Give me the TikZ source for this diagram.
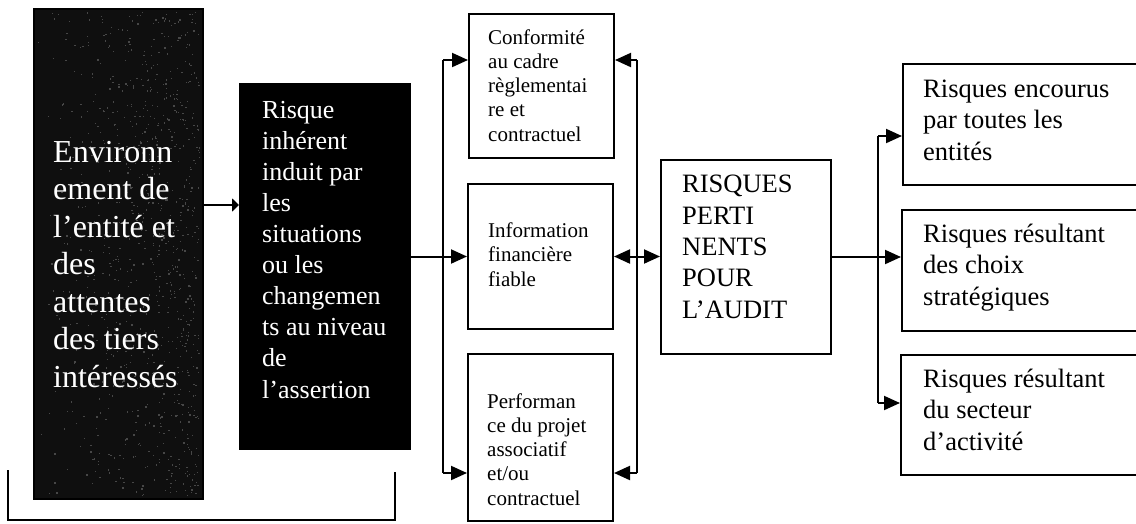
\documentclass[tikz,border=0pt]{standalone}
\usepackage{fontspec}
\setmainfont{Liberation Serif}
\usetikzlibrary{arrows.meta}
\begin{document}
\begin{tikzpicture}[x=1pt,y=-1pt,
  line/.style={line width=2pt},
  box/.style={draw, line width=2pt, anchor=north west, inner sep=0pt},
  darkbox/.style={box, fill=black},
  conn/.style={line, -{Triangle[length=16pt,width=14pt]}},
  conn2/.style={line, {Triangle[length=16pt,width=14pt]}-{Triangle[length=16pt,width=14pt]}},
  shortconn/.style={line, -{Triangle[length=7pt,width=13pt]}},
  lbl/.style={anchor=base west, inner sep=0pt, align=left},
  bigtxt/.style={lbl, text=white, font=\fontsize{32}{37.5}\selectfont},
  inhtxt/.style={lbl, text=white, font=\fontsize{26}{31.1}\selectfont},
  smalltxt/.style={lbl, font=\fontsize{21}{24.2}\selectfont},
  midtxt/.style={lbl, font=\fontsize{26.5}{31.3}\selectfont},
  grain/.style={fill=black!72}]
\useasboundingbox (0,0) rectangle (1136,523);

% boxes
\node[darkbox, fill=black!94, minimum width=169pt, minimum height=490pt] (env) at (33,8) {};
% grainy texture of the first box
\pgfmathsetseed{11}
\foreach \i in {1,...,900}{
  \pgfmathsetmacro{\gx}{36+163*sqrt(rnd)}
  \pgfmathsetmacro{\gy}{11+484*rnd}
  \fill[grain] (\gx,\gy) rectangle ++(1.3,1.3);
}
\node[darkbox, minimum width=170pt, minimum height=365pt] (inh) at (239,83) {};
\node[box, minimum width=145pt, minimum height=144pt] (conf) at (468,13) {};
\node[box, minimum width=145pt, minimum height=145pt] (info) at (467,183) {};
\node[box, minimum width=145pt, minimum height=167pt] (perf) at (467,353) {};
\node[box, minimum width=170pt, minimum height=194pt] (rp) at (660,159) {};
\node[box, minimum width=250pt, minimum height=121pt] (r1) at (902,63) {};
\node[box, minimum width=250pt, minimum height=121pt] (r2) at (901,209) {};
\node[box, minimum width=250pt, minimum height=120pt] (r3) at (900,354) {};

% texts (placed by the baseline of their last line)
\node[bigtxt] (envt) at (53,387) {Environn\\ement de\\l’entité et\\des\\attentes\\des tiers\\intéressés};
\node[inhtxt] (inht) at (262,398) {Risque\\inhérent\\induit par\\les\\situations\\ou les\\changemen\\ts au niveau\\de\\l’assertion};
\node[smalltxt] (conft) at (488,141) {Conformité\\au cadre\\règlementai\\re et\\contractuel};
\node[smalltxt] (infot) at (488,286) {Information\\financière\\fiable};
\node[smalltxt] (perft) at (487,505) {Performan\\ce du projet\\associatif\\et/ou\\contractuel};
\node[midtxt] (rpt) at (682,318) {RISQUES\\PERTI\\NENTS\\POUR\\L’AUDIT};
\node[midtxt] (r1t) at (923,160) {Risques encourus\\par toutes les\\entités};
\node[midtxt] (r2t) at (923,305) {Risques résultant\\des choix\\stratégiques};
\node[midtxt] (r3t) at (923,450) {Risques résultant\\du secteur\\d’activité};

% junction points
\coordinate (envout) at (202,205);
\coordinate (lbT) at (443,60);
\coordinate (lbB) at (443,473);
\coordinate (rbT) at (637,60);
\coordinate (rbB) at (637,473);
\coordinate (qT) at (878,136);
\coordinate (qB) at (878,403);
\coordinate (bL) at (8,470);
\coordinate (bLb) at (8,520);
\coordinate (bRb) at (395,520);
\coordinate (bR) at (395,472);

% connectors
\draw[shortconn] (envout) -- (envout -| inh.west);
\draw[conn] (inh.east |- info.west) -- (info.west);
\draw[line] (lbT) -- (lbB);
\draw[conn] (lbT) -- (lbT -| conf.west);
\draw[conn] (lbB) -- (lbB -| perf.west);
\draw[line] (rbT) -- (rbB);
\draw[conn] (rbT) -- (rbT -| conf.east);
\draw[conn] (rbB) -- (rbB -| perf.east);
\draw[conn2] (info.east) -- (info.east -| rp.west);
\draw[conn] (rp.east) -- (rp.east -| r2.west);
\draw[line] (qT) -- (qB);
\draw[conn] (qT) -- (qT -| r1.west);
\draw[conn] (qB) -- (qB -| r3.west);
\draw[line] (bL) -- (bLb) -- (bRb) -- (bR);
\end{tikzpicture}
\end{document}
